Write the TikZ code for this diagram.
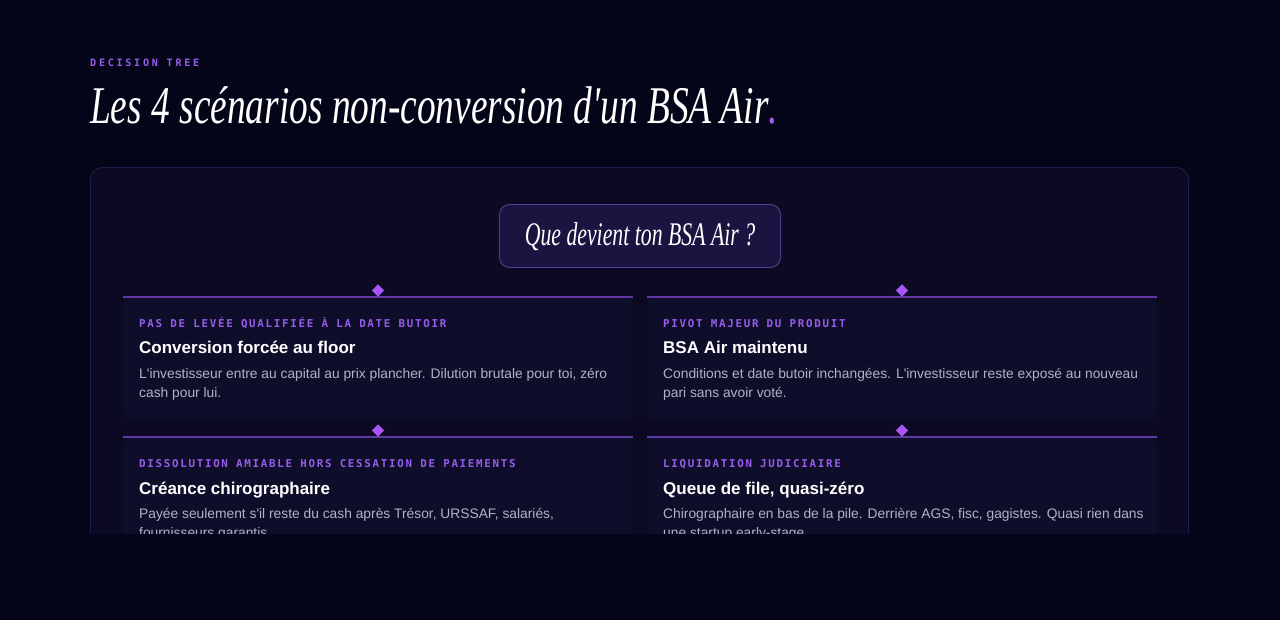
\documentclass[tikz,border=0pt]{standalone}
\usepackage{fontspec}
\usetikzlibrary{shapes.geometric}
\setmainfont{Liberation Serif}
\newfontfamily\titlefont{Liberation Serif}
\newfontfamily\sansfont{Liberation Sans}
\newfontfamily\monoA[LetterSpace=27]{DejaVu Sans Mono}
\newfontfamily\monoB[LetterSpace=16]{DejaVu Sans Mono}
\definecolor{bg}{RGB}{4,5,24}
\definecolor{panel}{RGB}{11,10,34}
\definecolor{panelborder}{RGB}{38,28,76}
\definecolor{card}{RGB}{15,14,42}
\definecolor{qfill}{RGB}{28,20,64}
\definecolor{qborder}{RGB}{92,62,150}
\definecolor{lbl}{RGB}{152,92,236}
\definecolor{rule}{RGB}{96,56,164}
\definecolor{dia}{RGB}{168,85,247}
\definecolor{bodytxt}{RGB}{178,178,196}
\tikzset{
  lblstyle/.style={anchor=base west, inner sep=0pt, text=lbl, font=\monoB\bfseries\fontsize{10.8}{12}\selectfont},
  headstyle/.style={anchor=base west, inner sep=0pt, text=white, font=\sansfont\bfseries\fontsize{17}{20}\selectfont},
  bodystyle/.style={anchor=base west, inner sep=0pt, text=bodytxt, font=\sansfont\fontsize{13.8}{19}\selectfont, align=left},
  diamondstyle/.style={diamond, fill=dia, inner sep=0pt, minimum size=12.6pt},
  rulestyle/.style={draw=rule, line width=2pt},
  cardstyle/.style={fill=card, rounded corners=8pt}
}
\begin{document}
\begin{tikzpicture}[x=1pt,y=-1pt]
\useasboundingbox (0,0) rectangle (1280,620);
\fill[bg] (0,0) rectangle (1280,620);
% header
\node[anchor=base west, inner sep=0pt, text=lbl, font=\monoA\bfseries\fontsize{10.1}{12}\selectfont] (kicker) at (90,66.5) {DECISION TREE};
\node[anchor=base west, inner sep=0pt, text=white] (title) at (90,124) {\scalebox{0.705}[1]{\titlefont\itshape\fontsize{53}{60}\selectfont Les 4 scénarios non-conversion d'un BSA Air\textcolor{dia}{.}}};
\begin{scope}
\clip (0,0) rectangle (1280,533);
\draw[fill=panel, draw=panelborder, line width=0.8pt, rounded corners=12pt] (90.5,167.5) rectangle (1188.5,640);
% question
\node[draw=qborder, fill=qfill, rounded corners=10pt, line width=0.8pt, minimum width=281pt, minimum height=63pt, inner sep=0pt] (q) at (640,236) {};
\node[anchor=base, inner sep=0pt, text=white] (qtext) at (640,246) {\scalebox{0.66}[1]{\titlefont\itshape\fontsize{33}{36}\selectfont Que devient ton BSA Air ?}};
% cards
\fill[cardstyle] (123,297) -- (633,297) -- (633,420) -- (123,420) -- cycle;
\fill[cardstyle] (647,297) -- (1157,297) -- (1157,420) -- (647,420) -- cycle;
\fill[cardstyle] (123,437) -- (633,437) -- (633,560) -- (123,560) -- cycle;
\fill[cardstyle] (647,437) -- (1157,437) -- (1157,560) -- (647,560) -- cycle;
\coordinate (r1a) at (123,297); \coordinate (r1b) at (633,297);
\coordinate (r2a) at (647,297); \coordinate (r2b) at (1157,297);
\coordinate (r3a) at (123,437); \coordinate (r3b) at (633,437);
\coordinate (r4a) at (647,437); \coordinate (r4b) at (1157,437);
\draw[rulestyle] (r1a) -- (r1b);
\draw[rulestyle] (r2a) -- (r2b);
\draw[rulestyle] (r3a) -- (r3b);
\draw[rulestyle] (r4a) -- (r4b);
\node[diamondstyle] (d1) at (378,290.5) {};
\node[diamondstyle] (d2) at (902,290.5) {};
\node[diamondstyle] (d3) at (378,430.5) {};
\node[diamondstyle] (d4) at (902,430.5) {};
% card 1
\node[lblstyle] (l1) at (139,327) {PAS DE LEVÉE QUALIFIÉE À LA DATE BUTOIR};
\node[headstyle] (h1) at (139,354) {Conversion forcée au floor};
\node[bodystyle] (b1) at (139,397.5) {L'investisseur entre au capital au prix plancher. Dilution brutale pour toi, zéro\\cash pour lui.};
% card 2
\node[lblstyle] (l2) at (663,327) {PIVOT MAJEUR DU PRODUIT};
\node[headstyle] (h2) at (663,354) {BSA Air maintenu};
\node[bodystyle] (b2) at (663,397.5) {Conditions et date butoir inchangées. L'investisseur reste exposé au nouveau\\pari sans avoir voté.};
% card 3
\node[lblstyle] (l3) at (139,467) {DISSOLUTION AMIABLE HORS CESSATION DE PAIEMENTS};
\node[headstyle] (h3) at (139,494) {Créance chirographaire};
\node[bodystyle] (b3) at (139,537.5) {Payée seulement s'il reste du cash après Trésor, URSSAF, salariés,\\fournisseurs garantis.};
% card 4
\node[lblstyle] (l4) at (663,467) {LIQUIDATION JUDICIAIRE};
\node[headstyle] (h4) at (663,494) {Queue de file, quasi-zéro};
\node[bodystyle] (b4) at (663,537.5) {Chirographaire en bas de la pile. Derrière AGS, fisc, gagistes. Quasi rien dans\\une startup early-stage.};
\end{scope}
\end{tikzpicture}
\end{document}
